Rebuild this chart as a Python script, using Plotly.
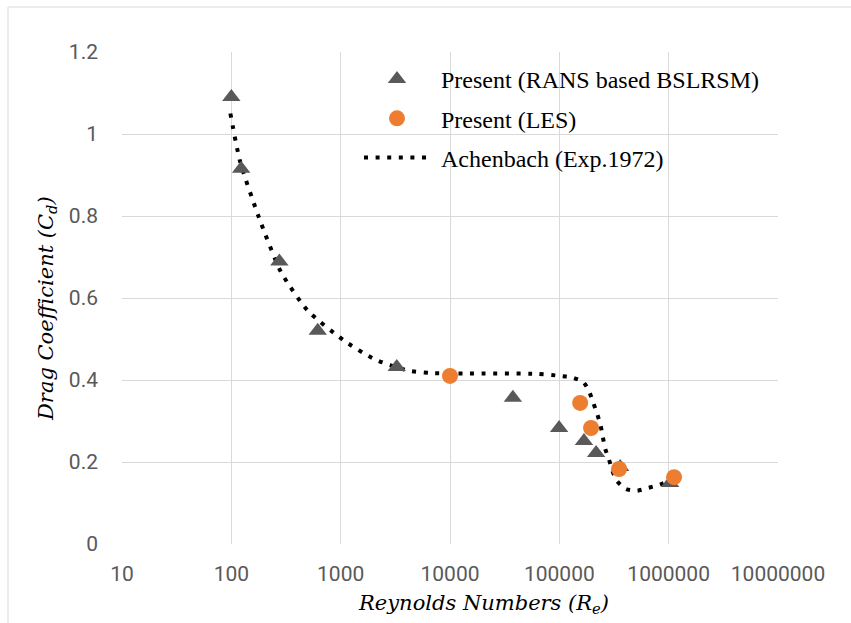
import plotly.graph_objects as go

# ---- data ----
rans_re = [100, 123, 275, 617, 3260, 37600, 99500, 168000, 217000, 360000, 1030000]
rans_cd = [1.090, 0.915, 0.689, 0.520, 0.432, 0.357, 0.283, 0.251, 0.222, 0.188, 0.149]

les_re = [10000, 155000, 195000, 352000, 1120000]
les_cd = [0.410, 0.344, 0.283, 0.183, 0.163]

ach_re = [98, 120, 179, 285, 500, 1074, 2025, 4110, 6710, 14270, 62700, 102000,
          131000, 166000, 188000, 204000, 222000, 238000, 250000, 262000, 284000,
          304000, 338000, 406000, 515000, 653000, 831000, 988000]
ach_cd = [1.050, 0.934, 0.796, 0.663, 0.569, 0.496, 0.451, 0.423, 0.417, 0.416, 0.415, 0.410,
          0.406, 0.395, 0.371, 0.345, 0.317, 0.290, 0.261, 0.233, 0.207,
          0.180, 0.153, 0.134, 0.130, 0.137, 0.145, 0.154]

x_tickvals = [10, 100, 1000, 10000, 100000, 1000000, 10000000]
x_ticktext = ["10", "100", "1000", "10000", "100000", "1000000", "10000000"]
y_tickvals = [0, 0.2, 0.4, 0.6, 0.8, 1.0, 1.2]
y_ticktext = ["0", "0.2", "0.4", "0.6", "0.8", "1", "1.2"]

NB = "\u00a0"
fig = go.Figure()
fig.add_trace(go.Scatter(
    x=ach_re, y=ach_cd, mode="lines", name=NB + "Achenbach (Exp.1972)",
    line=dict(color="black", width=4, dash="4px,7.6px", shape="spline", smoothing=0.6),
    legendgroup="c", legendrank=3))
fig.add_trace(go.Scatter(
    x=rans_re, y=rans_cd, mode="markers", name=NB + "Present (RANS based BSLRSM)",
    marker=dict(symbol="triangle-up", size=16, color="#595959"),
    legendgroup="a", legendrank=1))
fig.add_trace(go.Scatter(
    x=les_re, y=les_cd, mode="markers", name=NB + "Present (LES)",
    marker=dict(symbol="circle", size=16, color="#ED7D31"),
    legendgroup="b", legendrank=2))

L, R, T, B = 122, 73, 52, 79
W, H = 851, 623
pw, ph = W - L - R, H - T - B


def px_x(p):
    return (p - L) / pw


def px_y(p):
    return (ph + T - p) / ph


fx, fy = px_x(8), px_y(7)

fig.update_layout(
    width=W, height=H,
    margin=dict(l=L, r=R, t=T, b=B),
    paper_bgcolor="white", plot_bgcolor="white",
    showlegend=True,
    legend=dict(
        x=px_x(359), y=px_y(57), xanchor="left", yanchor="top",
        bgcolor="rgba(0,0,0,0)", borderwidth=0,
        font=dict(family="Liberation Serif, Times New Roman, serif", size=24, color="black"),
        traceorder="grouped", tracegroupgap=5, itemwidth=66,
    ),
    xaxis=dict(
        type="log", range=[1, 7],
        tickvals=x_tickvals, ticktext=x_ticktext,
        showgrid=True, gridcolor="#d9d9d9", gridwidth=1,
        zeroline=False, showline=False, ticks="",
        tickfont=dict(family="Roboto, sans-serif", size=21, color="#595959"),
        ticklabelstandoff=15,
    ),
    yaxis=dict(
        range=[0, 1.2],
        tickvals=y_tickvals, ticktext=y_ticktext,
        showgrid=True, gridcolor="#d9d9d9", gridwidth=1,
        zeroline=False, showline=False, ticks="",
        tickfont=dict(family="Roboto, sans-serif", size=21, color="#595959"),
        ticklabelstandoff=23,
    ),
    annotations=[
        dict(text="<i>Reynolds Numbers (R<sub>e</sub>)</i>", xref="paper", yref="paper",
             x=px_x(483), y=px_y(604), xanchor="center", yanchor="middle", showarrow=False,
             font=dict(family="DejaVu Serif, serif", size=21, color="black")),
        dict(text="<i>Drag Coefficient (C<sub>d</sub>)</i>", xref="paper", yref="paper",
             x=px_x(47), y=px_y(309), xanchor="center", yanchor="middle", showarrow=False,
             textangle=-90,
             font=dict(family="DejaVu Serif, serif", size=21, color="black")),
    ],
    shapes=[
        dict(type="rect", xref="paper", yref="paper", layer="between",
             x0=px_x(340), x1=px_x(781), y0=px_y(180.5), y1=px_y(57),
             fillcolor="white", line=dict(width=0)),
        dict(type="line", xref="paper", yref="paper", x0=fx, x1=fx, y0=fy, y1=-0.3,
             line=dict(color="#d9d9d9", width=1)),
        dict(type="line", xref="paper", yref="paper", x0=fx, x1=1.5, y0=fy, y1=fy,
             line=dict(color="#d9d9d9", width=1)),
    ],
)

fig.write_html("out.html")
